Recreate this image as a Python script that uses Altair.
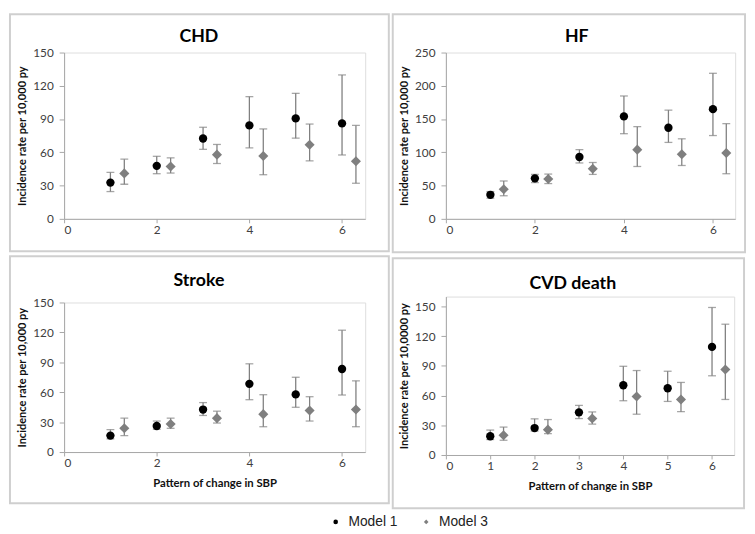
import altair as alt
import pandas as pd

patterns = [1, 2, 3, 4, 5, 6]
models = ["Model 1", "Model 3"]

# CHD
chd_m1 = [32.7, 47.8, 72.5, 84.3, 90.6, 86.1]
chd_m1_lo = [24.6, 40.7, 62.7, 64.0, 72.8, 57.6]
chd_m1_hi = [41.9, 56.4, 82.6, 110.2, 113.2, 129.8]
chd_m3 = [41.0, 47.2, 57.9, 56.7, 66.8, 52.0]
chd_m3_lo = [31.2, 41.3, 49.9, 39.8, 52.3, 32.1]
chd_m3_hi = [53.8, 55.0, 67.1, 81.1, 85.5, 84.3]

# HF
hf_m1 = [36.1, 60.9, 93.0, 154.0, 137.0, 164.9]
hf_m1_lo = [31.0, 54.5, 84.0, 128.0, 114.9, 125.2]
hf_m1_hi = [41.0, 66.8, 104.0, 184.7, 163.4, 218.8]
hf_m3 = [44.6, 59.9, 75.2, 104.0, 97.0, 99.0]
hf_m3_lo = [34.7, 53.0, 66.8, 78.7, 80.2, 67.8]
hf_m3_hi = [56.9, 67.3, 84.7, 138.6, 120.3, 143.1]

# Stroke
st_m1 = [16.5, 26.1, 42.6, 68.4, 57.8, 83.3]
st_m1_lo = [13.2, 22.8, 36.7, 52.5, 44.9, 57.2]
st_m1_hi = [22.5, 31.1, 49.6, 88.5, 75.0, 122.2]
st_m3 = [23.8, 28.1, 34.0, 38.0, 41.6, 42.6]
st_m3_lo = [16.5, 23.8, 29.1, 25.4, 31.1, 25.4]
st_m3_hi = [34.0, 34.0, 41.0, 57.5, 55.5, 71.4]

# CVD death
cvd_m1 = [18.9, 27.2, 43.1, 70.4, 67.4, 109.2]
cvd_m1_lo = [15.6, 24.2, 36.8, 54.8, 54.1, 80.0]
cvd_m1_hi = [25.2, 36.5, 50.1, 89.6, 84.6, 149.0]
cvd_m3 = [19.9, 25.6, 36.8, 59.1, 56.1, 86.3]
cvd_m3_lo = [14.9, 21.6, 31.2, 41.2, 43.8, 56.1]
cvd_m3_hi = [28.2, 35.8, 43.5, 85.3, 73.3, 132.1]


def make_df(m1, m1lo, m1hi, m3, m3lo, m3hi):
    rows = []
    for i, p in enumerate(patterns):
        rows.append({"pattern": p, "Model": models[0], "rate": m1[i], "lo": m1lo[i], "hi": m1hi[i]})
        rows.append({"pattern": p, "Model": models[1], "rate": m3[i], "lo": m3lo[i], "hi": m3hi[i]})
    return pd.DataFrame(rows)


LABEL_FONT = "Lato"
AX_COLOR = "#a6a6a6"
FRAME_COLOR = "#cfcfcf"
BAR_COLOR = "#808080"


def panel(df, title, ymax, yvals, xvals, ytitle, xtitle, w, h, frame, tx, ty):
    base = alt.Chart(df).transform_calculate(
        xpos="datum.pattern + (datum.Model == 'Model 3' ? 0.3 : 0)"
    )
    xaxis_kwargs = dict(values=xvals, grid=False, domainColor=AX_COLOR, tickColor=AX_COLOR,
                        tickSize=4, labelPadding=2, labelFont=LABEL_FONT, labelFontSize=12,
                        labelColor="#404040", titleFont=LABEL_FONT, titleFontSize=11.5,
                        titleFontWeight="bold", titleColor="#111111", titlePadding=9,
                        labelOverlap=False)
    if xtitle:
        xaxis = alt.Axis(title=xtitle, **xaxis_kwargs)
    else:
        xaxis = alt.Axis(title=None, **xaxis_kwargs)
    x = alt.X("xpos:Q", scale=alt.Scale(domain=[0, 6.5], nice=False, zero=True), axis=xaxis)
    yscale = alt.Scale(domain=[0, ymax], nice=False)
    yaxis = alt.Axis(title=ytitle, values=yvals, grid=False, domainColor=AX_COLOR,
                     tickColor=AX_COLOR, tickSize=5, labelPadding=6, labelFont=LABEL_FONT,
                     labelFontSize=12, labelColor="#404040", titleFont=LABEL_FONT,
                     titleFontSize=11.2, titleFontWeight="bold", titleColor="#111111",
                     titlePadding=5, labelOverlap=False)
    bars = base.mark_rule(color=BAR_COLOR, strokeWidth=1.3).encode(
        x=x, y=alt.Y("lo:Q", scale=yscale, axis=yaxis), y2="hi:Q")
    cap_lo = base.mark_tick(orient="horizontal", color=BAR_COLOR, size=8, thickness=1.3).encode(
        x="xpos:Q", y=alt.Y("lo:Q", axis=yaxis))
    cap_hi = base.mark_tick(orient="horizontal", color=BAR_COLOR, size=8, thickness=1.3).encode(
        x="xpos:Q", y=alt.Y("hi:Q", axis=yaxis))
    pts = base.mark_point(filled=True, opacity=1).encode(
        x="xpos:Q",
        y=alt.Y("rate:Q", axis=yaxis),
        color=alt.Color("Model:N", scale=alt.Scale(domain=models, range=["#000000", "#7f7f7f"]),
                        legend=alt.Legend(title=None, orient="none", direction="horizontal",
                                          legendX=269, legendY=470, symbolSize=22,
                                          labelFont="Liberation Sans", labelFontSize=14,
                                          labelColor="#222222", labelOffset=6,
                                          columnPadding=22, padding=0)),
        shape=alt.Shape("Model:N", scale=alt.Scale(domain=models, range=["circle", "diamond"])),
        size=alt.condition("datum.Model == 'Model 3'", alt.value(105), alt.value(72)),
    )
    one = alt.Data(values=[{"a": 1}])
    fl, fr, ft, fb = frame
    fr_chart = alt.Chart(one).mark_rect(
        fillOpacity=0, stroke=FRAME_COLOR, strokeWidth=2).encode(
        x=alt.value(fl), x2=alt.value(w + fr), y=alt.value(ft), y2=alt.value(h + fb))
    ttl = alt.Chart(one).mark_text(
        font=LABEL_FONT, fontSize=18, fontWeight="bold", color="#000000",
        align="center", baseline="alphabetic").encode(
        x=alt.value(tx), y=alt.value(ty), text=alt.value(title))
    return alt.layer(fr_chart, ttl, bars, cap_lo, cap_hi, pts).properties(width=w, height=h)


yt = "Incidence rate per 10,000 py"
chd = panel(make_df(chd_m1, chd_m1_lo, chd_m1_hi, chd_m3, chd_m3_lo, chd_m3_hi),
            "CHD", 150, [0, 30, 60, 90, 120, 150], [0, 2, 4, 6], yt, None,
            306, 169, (-55, 24, -39, 33), 137, -11)
hf = panel(make_df(hf_m1, hf_m1_lo, hf_m1_hi, hf_m3, hf_m3_lo, hf_m3_hi),
           "HF", 250, [0, 50, 100, 150, 200, 250], [0, 2, 4, 6], yt, None,
           294, 169, (-54, 10, -39, 34), 133, -11)
stroke = panel(make_df(st_m1, st_m1_lo, st_m1_hi, st_m3, st_m3_lo, st_m3_hi),
               "Stroke", 150, [0, 30, 60, 90, 120, 150], [0, 2, 4, 6], yt,
               "Pattern of change in SBP", 306, 152, (-55, 24, -47, 52), 137, -17)
cvd = panel(make_df(cvd_m1, cvd_m1_lo, cvd_m1_hi, cvd_m3, cvd_m3_lo, cvd_m3_hi),
            "CVD death", 160, [0, 30, 60, 90, 120, 150], [0, 1, 2, 3, 4, 5, 6],
            "Incidence rate per 10,0000 py", "Pattern of change in SBP",
            293, 161, (-54, 10, -39, 54), 129, -8)

left = alt.vconcat(chd, stroke, spacing=1).resolve_scale(x="independent", y="independent")
right = alt.vconcat(hf, cvd, spacing=2).resolve_scale(x="independent", y="independent")
chart = alt.hconcat(left, right, spacing=0).resolve_scale(
    x="independent", y="independent"
).properties(
    padding=0
).configure_view(stroke=None).configure_axis(labelOverlap=False).configure(
    background="white", padding=0)

chart.save("out.html", embed_options={"renderer": "svg", "actions": False})
